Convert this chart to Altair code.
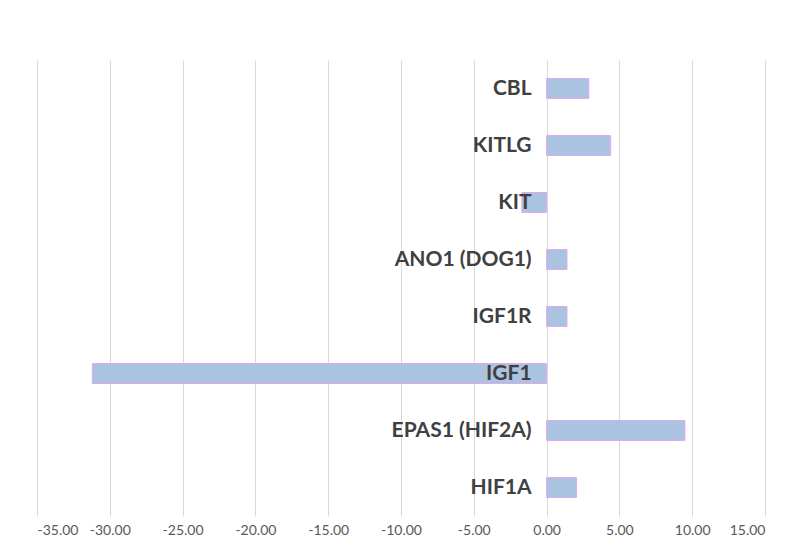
import altair as alt
import pandas as pd

genes = ["CBL", "KITLG", "KIT", "ANO1 (DOG1)", "IGF1R", "IGF1", "EPAS1 (HIF2A)", "HIF1A"]
values = [2.9, 4.4, -1.7, 1.4, 1.4, -31.2, 9.5, 2.05]
x_ticks = [-35, -30, -25, -20, -15, -10, -5, 0, 5, 10, 15]

df = pd.DataFrame({"gene": genes, "value": values, "zero": [0] * len(genes)})

y_enc = alt.Y("gene:N", sort=genes, axis=None,
              scale=alt.Scale(paddingInner=0.65, paddingOuter=0.325))

bars = alt.Chart(df).mark_bar(
    color="#a9c3e0", stroke="#e2a8ee", strokeWidth=1
).encode(
    x=alt.X("value:Q",
            scale=alt.Scale(domain=[-35, 15], nice=False, zero=False),
            axis=alt.Axis(values=x_ticks, title=None,
                          labelExpr="replace(format(datum.value, '.2f'), '\u2212', '-')",
                          grid=True, gridColor="#d9d9d9", gridWidth=1,
                          domain=False, ticks=False, labelPadding=7,
                          labelFont="Lato", labelFontSize=14,
                          labelColor="#595959")),
    y=y_enc,
)

labels = alt.Chart(df).mark_text(
    align="right", baseline="middle", dx=-15,
    font="Lato", fontSize=21, fontWeight="bold", color="#404040"
).encode(
    x="zero:Q",
    y=y_enc,
    text="gene:N",
)

chart = alt.layer(bars, labels).properties(
    width=728, height=456,
    autosize=alt.AutoSizeParams(type="none"),
    padding={"left": 29, "top": 52, "right": 27, "bottom": 39},
).configure(background="white").configure_view(stroke=None)

chart.save("out.html", embed_options={"renderer": "svg", "actions": False})
